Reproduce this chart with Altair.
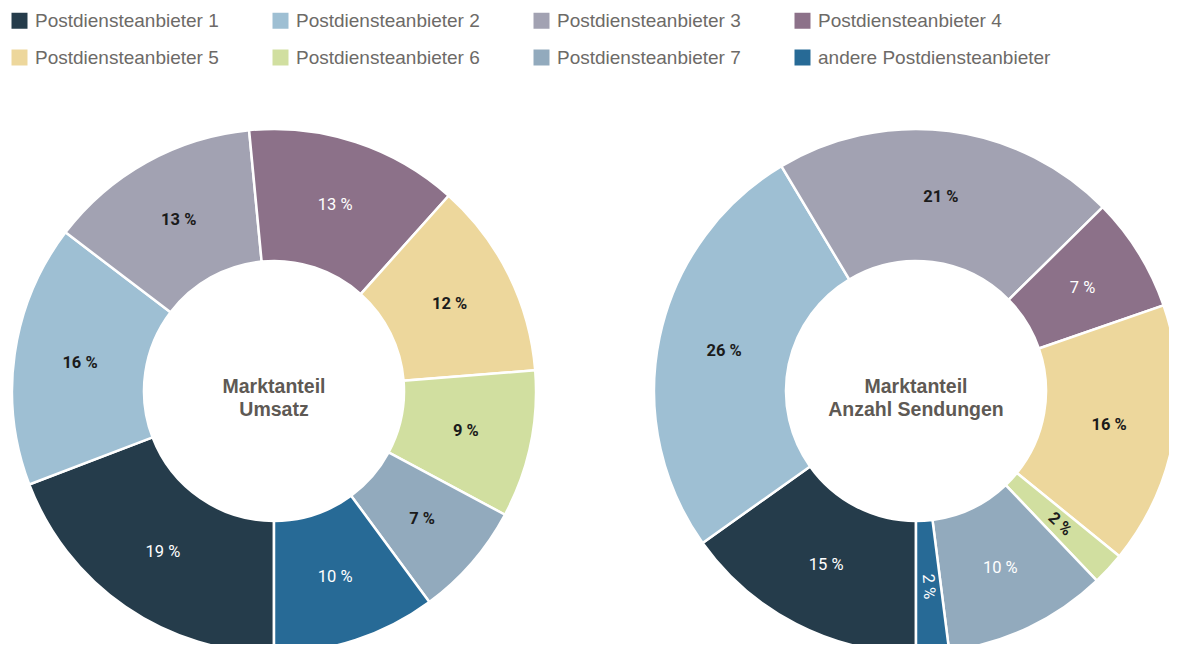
import math
import altair as alt
import pandas as pd

providers = [
    "Postdiensteanbieter 1", "Postdiensteanbieter 2", "Postdiensteanbieter 3",
    "Postdiensteanbieter 4", "Postdiensteanbieter 5", "Postdiensteanbieter 6",
    "Postdiensteanbieter 7", "andere Postdiensteanbieter",
]
colors = ["#253c4b", "#9ebfd3", "#a2a2b2", "#8c7189", "#edd79c", "#d1dfa0", "#92aabd", "#276a96"]

umsatz = [19, 16, 13, 13, 12, 9, 7, 10]
sendungen = [15, 26, 21, 7, 16, 2, 10, 2]

charts = ["Umsatz", "Sendungen"]
center_titles = ["Marktanteil\nUmsatz", "Marktanteil\nAnzahl Sendungen"]

rows = []
for chart, vals in zip(charts, [umsatz, sendungen]):
    for i, (p, v) in enumerate(zip(providers, vals)):
        rows.append({"chart": chart, "provider": p, "idx": i, "value": v})
df = pd.DataFrame(rows)
titles_df = pd.DataFrame({"chart": charts, "title": center_titles})

PI = math.pi
INNER, OUTER = 130, 262
LABEL_R = 196
centers = {"Umsatz": (266, 383), "Sendungen": (908, 383)}
LABEL_FONT = "Roboto"

color_scale = alt.Scale(domain=providers, range=colors)


def donut(chart_name):
    cx, cy = centers[chart_name]
    base = (
        alt.Chart(df)
        .transform_filter(alt.datum.chart == chart_name)
        .transform_joinaggregate(total="sum(value)")
        .transform_window(cum="sum(value)", sort=[alt.SortField("idx")], frame=[None, 0])
        .transform_calculate(
            t0=f"{PI} + 2*{PI}*(datum.cum - datum.value)/datum.total",
            t1=f"{PI} + 2*{PI}*datum.cum/datum.total",
            tm=f"{PI} + 2*{PI}*(datum.cum - datum.value/2)/datum.total",
        )
        .transform_calculate(
            rot="datum.value <= 3 ? (datum.tm*180/PI - 90) % 360 : 0",
            label="datum.value + ' %'",
            light=(
                "indexof(['Postdiensteanbieter 1','Postdiensteanbieter 4','andere Postdiensteanbieter'], datum.provider) >= 0"
                " || (datum.chart == 'Sendungen' && datum.provider == 'Postdiensteanbieter 7')"
            ),
        )
    )
    arcs = base.mark_arc(innerRadius=INNER, outerRadius=OUTER, stroke="white", strokeWidth=2.5).encode(
        theta=alt.Theta("t0:Q", scale=None),
        theta2="t1:Q",
        x=alt.value(cx),
        y=alt.value(cy),
        color=alt.Color(
            "provider:N",
            scale=color_scale,
            legend=alt.Legend(
                title=None,
                orient="none",
                direction="horizontal",
                legendX=2,
                legendY=3,
                columns=4,
                symbolType="square",
                symbolSize=256,
                symbolStrokeWidth=0,
                labelFontSize=19,
                labelFont="Liberation Sans",
                labelColor="#6d6a67",
                labelOffset=6,
                columnPadding=3,
                rowPadding=17,
                labelLimit=400,
            ),
        ),
    )
    dark_labels = base.transform_filter("!datum.light").mark_text(
        radius=LABEL_R, font=LABEL_FONT,
        fontSize=16.5, fontWeight="bold", color="#1b1b1b",
    ).encode(
        theta=alt.Theta("tm:Q", scale=None),
        x=alt.value(cx), y=alt.value(cy),
        angle=alt.Angle("rot:Q", scale=None),
        text="label:N",
    )
    light_labels = base.transform_filter("datum.light").mark_text(
        radius=LABEL_R, font=LABEL_FONT,
        fontSize=16.5, color="white",
    ).encode(
        theta=alt.Theta("tm:Q", scale=None),
        x=alt.value(cx), y=alt.value(cy),
        angle=alt.Angle("rot:Q", scale=None),
        text="label:N",
    )
    center = (
        alt.Chart(titles_df)
        .transform_filter(alt.datum.chart == chart_name)
        .mark_text(
            lineBreak="\n", lineHeight=22.5, font="Liberation Sans", fontWeight="bold",
            fontSize=19.5, color="#5e5954", dy=-4,
        )
        .encode(x=alt.value(cx), y=alt.value(cy), text="title:N")
    )
    return [arcs, dark_labels, light_labels, center]


layers = donut("Umsatz") + donut("Sendungen")

chart = (
    alt.layer(*layers)
    .properties(width=1161, height=636, padding=0, autosize=alt.AutoSizeParams(type="none"))
    .configure_view(stroke=None)
    .configure_legend(gridAlign="all")
)

chart.save("out.html", embed_options={"renderer": "svg", "actions": False})
